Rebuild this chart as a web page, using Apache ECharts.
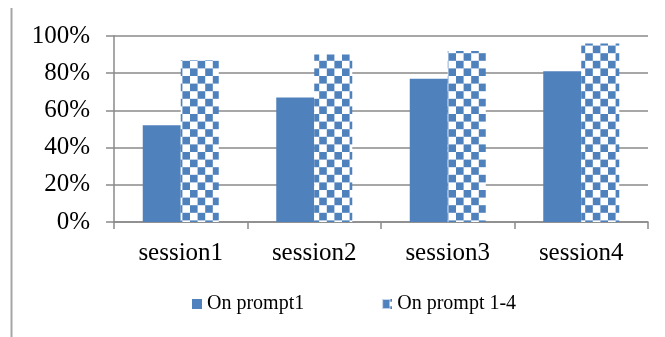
<!DOCTYPE html>
<html>
<head>
<meta charset="utf-8">
<style>
  html, body { margin: 0; padding: 0; background: #fff; }
  #chart { width: 665px; height: 337px; }
</style>
<script src="https://cdn.jsdelivr.net/npm/echarts@6/dist/echarts.min.js"></script>
</head>
<body>
<div id="chart"></div>
<script>
// Share of responses per session
const categories = ['session1', 'session2', 'session3', 'session4'];
const onPrompt1 = [52, 67, 77, 81];
const onPrompt1to4 = [87, 90, 92, 96];
const seriesNames = ['On prompt1', 'On prompt 1-4'];
const yTicks = { min: 0, max: 100, interval: 20 };

const BLUE = '#4F81BD';
const GRID_GRAY = '#8a8a8a';
const FONT = '"Liberation Serif", "Times New Roman", serif';

// Blue / white checkerboard fill
function checkerPattern() {
  const cells = 10, size = 7.6;
  const c = document.createElement('canvas');
  c.width = Math.round(cells * size);
  c.height = Math.round(cells * size);
  const ctx = c.getContext('2d');
  ctx.fillStyle = '#ffffff';
  ctx.fillRect(0, 0, c.width, c.height);
  ctx.fillStyle = BLUE;
  for (let r = 0; r < cells; r++) {
    for (let q = 0; q < cells; q++) {
      if ((r + q) % 2 === 0) ctx.fillRect(q * size, r * size, size, size);
    }
  }
  return { image: c, repeat: 'repeat' };
}
const checker = checkerPattern();

// Small legend swatch for the checkerboard series
function checkerSwatch() {
  const c = document.createElement('canvas');
  c.width = 11; c.height = 11;
  const ctx = c.getContext('2d');
  ctx.fillStyle = '#c9d7ea';
  ctx.fillRect(0, 0, 11, 11);
  ctx.fillStyle = BLUE;
  ctx.fillRect(1, 1, 7, 9);
  ctx.fillStyle = '#ffffff';
  ctx.fillRect(8, 3, 3, 5);
  ctx.fillStyle = BLUE;
  ctx.fillRect(9, 0, 2, 3);
  ctx.fillRect(9, 8, 2, 3);
  return 'image://' + c.toDataURL();
}

const chart = echarts.init(document.getElementById('chart'), null, { renderer: 'canvas' });
chart.setOption({
  animation: false,
  backgroundColor: '#ffffff',
  grid: { left: 114, top: 36, right: 17, bottom: 115, containLabel: false },
  legend: {
    left: 187,
    top: 289,
    itemWidth: 10,
    itemHeight: 10,
    itemGap: 78,
    textStyle: { fontFamily: FONT, fontSize: 20, color: '#000' },
    data: [
      { name: seriesNames[0], icon: 'rect', itemStyle: { color: BLUE } },
      { name: seriesNames[1], icon: checkerSwatch() }
    ]
  },
  xAxis: {
    type: 'category',
    data: categories,
    axisLine: { lineStyle: { color: GRID_GRAY, width: 1.5 } },
    axisTick: { show: true, length: 7, alignWithLabel: false, lineStyle: { color: GRID_GRAY, width: 1.5 } },
    axisLabel: { fontFamily: FONT, fontSize: 25, color: '#000', margin: 19 }
  },
  yAxis: {
    type: 'value',
    min: yTicks.min,
    max: yTicks.max,
    interval: yTicks.interval,
    axisLine: { show: true, lineStyle: { color: GRID_GRAY, width: 1.5 } },
    axisTick: { show: true, length: 8, lineStyle: { color: GRID_GRAY, width: 1.5 } },
    splitLine: { show: true, lineStyle: { color: GRID_GRAY, width: 1.5 } },
    axisLabel: { fontFamily: FONT, fontSize: 25, color: '#000', margin: 24, formatter: '{value}%' }
  },
  series: [
    {
      name: seriesNames[0],
      type: 'bar',
      data: onPrompt1,
      barWidth: 38,
      barGap: '0%',
      itemStyle: { color: BLUE }
    },
    {
      name: seriesNames[1],
      type: 'bar',
      data: onPrompt1to4,
      barWidth: 38,
      barGap: '0%',
      itemStyle: { color: checker }
    }
  ],
  graphic: [
    {
      type: 'line',
      shape: { x1: 11.5, y1: 8, x2: 11.5, y2: 337 },
      style: { stroke: '#a6a6a6', lineWidth: 2 }
    }
  ]
});
</script>
</body>
</html>
